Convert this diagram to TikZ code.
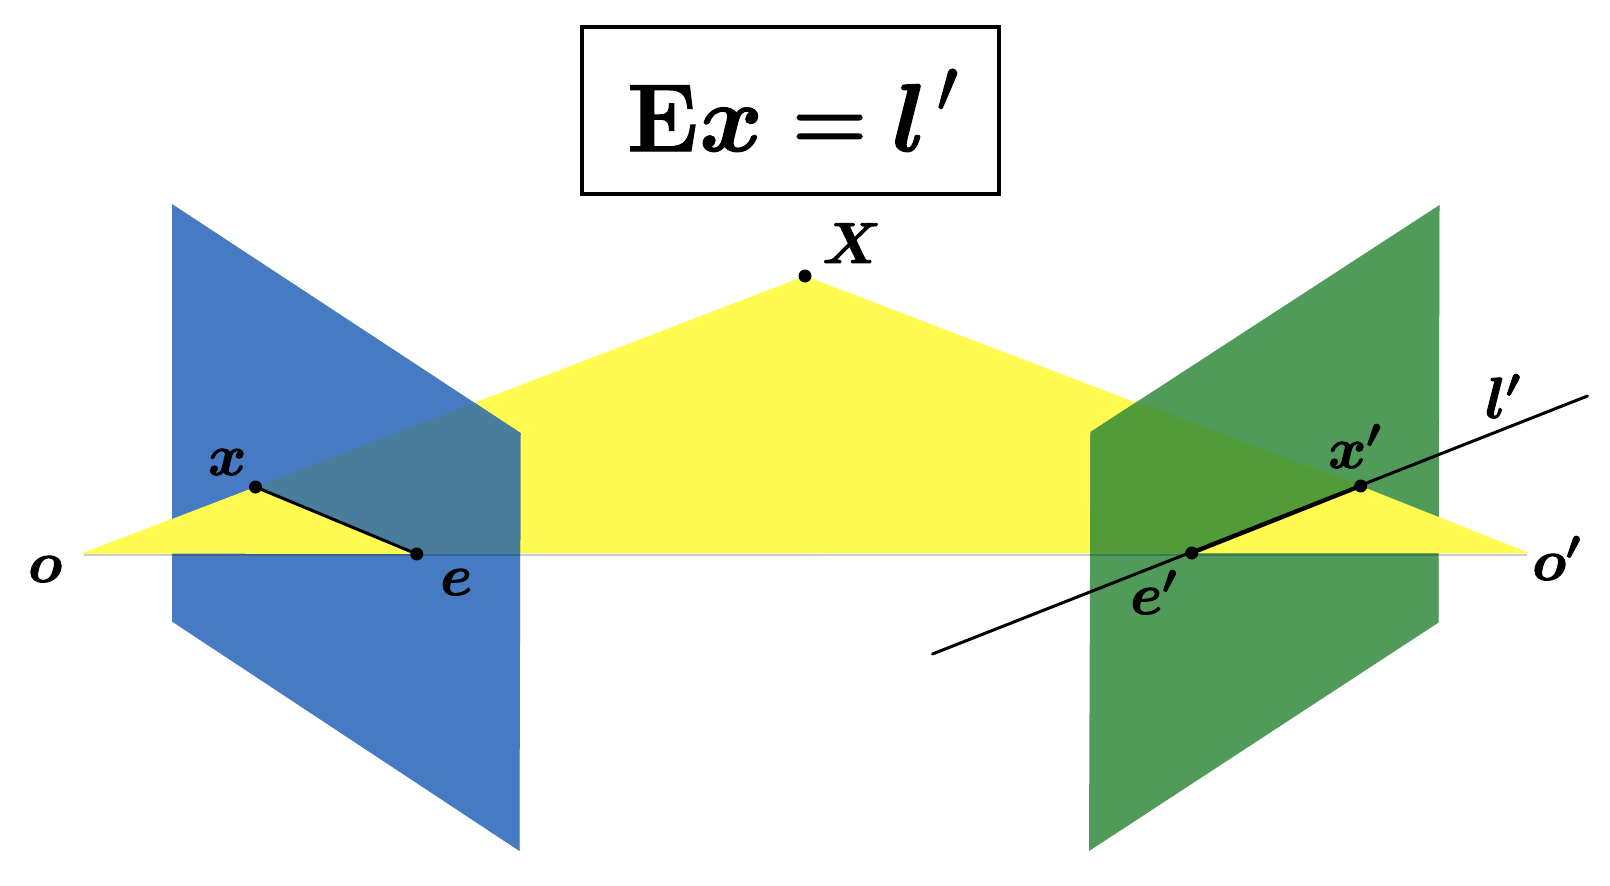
\RequirePackage{fix-cm}
\documentclass[tikz,border=0pt]{standalone}
\usepackage{amsmath}
\usepackage{bm}
\usepackage{graphicx}
\definecolor{planeblue}{HTML}{467BC4}
\definecolor{planegreen}{HTML}{519B5A}
\definecolor{epiyellow}{HTML}{FFFB4F}
\definecolor{overblue}{HTML}{487D9B}
\definecolor{overgreen}{HTML}{519B38}
\newcommand{\heavy}[2]{\special{pdf:code 2 Tr #1 w}#2\special{pdf:code 0 Tr 1 w}}
\tikzset{
  dot/.style={circle,fill=black,inner sep=0pt,minimum size=13pt},
  lab/.style={anchor=base west,inner sep=0pt,font=\fontsize{58}{60}\selectfont\boldmath},
  soft/.style={fill=black,opacity=0.2,draw=none},
  epiline/.style={black,line width=3pt,line cap=round},
  boxline/.style={draw=black,line width=3.4pt}
}
\begin{document}
\begin{tikzpicture}[x=1pt,y=-1pt]
\useasboundingbox (0,-1) rectangle (1610,885);
\fill[white] (0,-1) rectangle (1610,885);
% corner points
\coordinate (o) at (82,552.5);
\coordinate (op) at (1529,552);
\coordinate (bTL) at (172,203);
\coordinate (bTR) at (520.5,432);
\coordinate (bBR) at (519.5,850);
\coordinate (bBL) at (172,620.5);
\coordinate (gTL) at (1090.5,431);
\coordinate (gTR) at (1439.5,204);
\coordinate (gBR) at (1438.5,621.5);
\coordinate (gBL) at (1089,850);
\coordinate (lA) at (932.5,653);
\coordinate (lB) at (1587.5,395);
% named points
\coordinate (X) at (805,275);
\coordinate (xl) at (255.5,486);
\coordinate (el) at (416.8,553);
\coordinate (xr) at (1360.7,485);
\coordinate (er) at (1191.8,552);
% yellow plane
\fill[epiyellow] (o) -- (X) -- (op) -- cycle;
% image planes with soft edges
\fill[soft,xshift=1.5pt,yshift=-2pt] (bBL) -- (bBR) -- (bTR) -- (500,620) -- cycle;
\fill[soft,xshift=1.5pt,yshift=-2pt] (gBL) -- (gBR) -- (gTR) -- (1400,600) -- cycle;
\fill[planeblue] (bTL) -- (bTR) -- (bBR) -- (bBL) -- cycle;
\fill[planegreen] (gTL) -- (gTR) -- (gBR) -- (gBL) -- cycle;
% overlaps
\begin{scope}
  \clip (bTL) -- (bTR) -- (bBR) -- (bBL) -- cycle;
  \fill[overblue] (xl) -- (X) -- (op) -- (el) -- cycle;
\end{scope}
\begin{scope}
  \clip (gTL) -- (gTR) -- (gBR) -- (gBL) -- cycle;
  \fill[overgreen] (o) -- (X) -- (xr) -- (er) -- cycle;
\end{scope}
% yellow triangles in front of the planes
\fill[epiyellow] (o) -- (xl) -- (el) -- cycle;
\fill[epiyellow] (op) -- (xr) -- (er) -- cycle;
\fill[black,opacity=0.2] (84,552.6) rectangle (1527,555);
% points
\node[dot] (nX) at (X) {};
\node[dot] (nxl) at (xl) {};
\node[dot] (nel) at (el) {};
\node[dot] (nxr) at (xr) {};
\node[dot] (ner) at (er) {};
% lines
\draw[epiline] (nxl) -- (nel);
\draw[epiline] (lA) -- (lB);
\draw[epiline,line width=4pt] (ner) -- (nxr);
% labels
\node[lab] (Lo) at (28,581) {\heavy{0.9}{$\bm{o}$}};
\node[lab] (Lx) at (208,474) {\heavy{0.9}{$\bm{x}$}};
\node[lab] (Le) at (440,594) {\heavy{0.9}{$\bm{e}$}};
\node[lab] (LX) at (822,262) {\heavy{0.9}{$\bm{X}$}};
\node[lab] (Lxp) at (1328,467) {\heavy{0.9}{$\bm{x'}$}};
\node[lab] (Llp) at (1485,417) {\heavy{0.9}{$\bm{l'}$}};
\node[lab] (Lep) at (1130,613) {\heavy{0.9}{$\bm{e'}$}};
\node[lab] (Lop) at (1532,579) {\heavy{0.9}{$\bm{o'}$}};
% title
\draw[boxline] (582,26) rectangle (999,193);
\node[anchor=base west,inner sep=0pt,font=\fontsize{96}{100}\selectfont\boldmath] (eq) at (627,150) {\heavy{1.4}{$\mathbf{E}$\hspace{1.5pt}$\bm{x}$\hspace{29pt}\raisebox{2.5pt}{\scalebox{.9}{$=$}}\hspace{25pt}$\bm{l}$\hspace{10pt}\raisebox{39pt}{\scalebox{.8}{\mathversion{normal}$\prime$}}}};
\end{tikzpicture}
\end{document}
